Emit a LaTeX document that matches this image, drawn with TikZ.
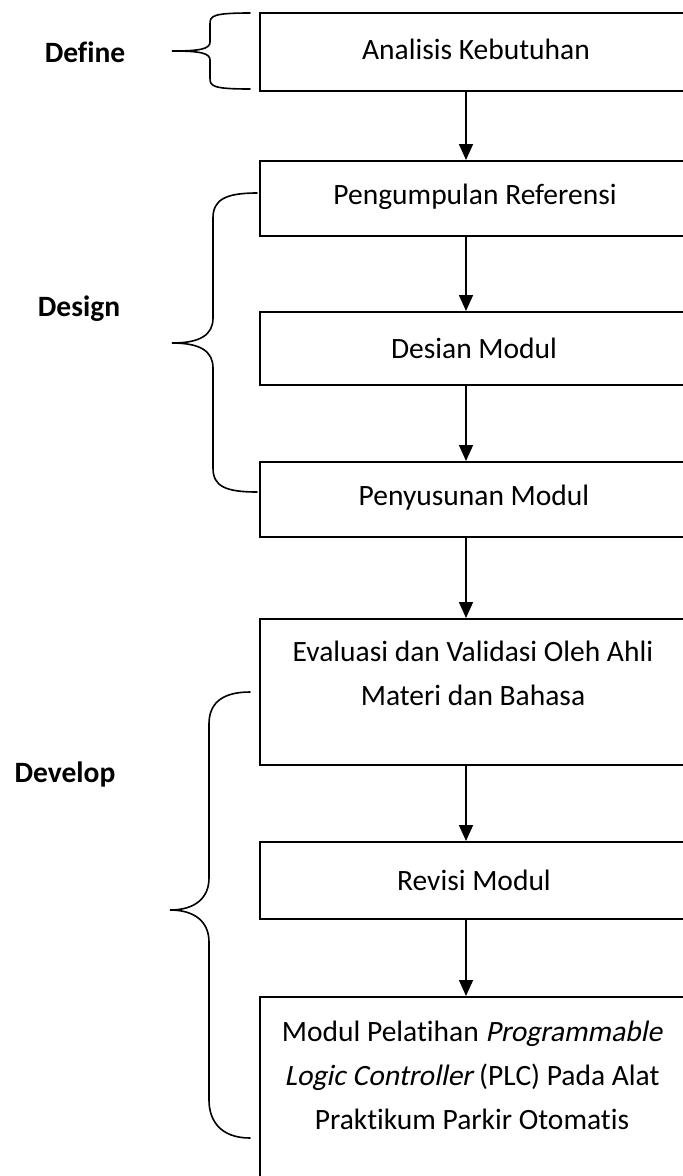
\documentclass[tikz,border=0pt]{standalone}
\usepackage{fontspec}
\setmainfont{Carlito}[Ligatures=NoCommon, ItalicFont=Carlito, ItalicFeatures={FakeSlant=0.2}]
\usetikzlibrary{arrows.meta}
\begin{document}
\begin{tikzpicture}[x=1pt,y=-1pt,
  box/.style={draw, line width=1.6pt, anchor=north west, minimum width=460pt, inner sep=0pt},
  txt/.style={font=\fontsize{29.5}{44}\selectfont, align=center, inner sep=0pt},
  lbl/.style={font=\fontsize{29.5}{44}\selectfont\bfseries, inner sep=0pt},
  arr/.style={line width=1.6pt, -{Triangle[length=16pt,width=14pt]}},
  brace/.style={line width=1.6pt, line cap=round}]
\useasboundingbox (0,0) rectangle (683,1176);
\clip (0,0) rectangle (683,1176);
% boxes
\node[box, minimum height=78pt]  (b1) at (259,12)  {};
\node[box, minimum height=75pt]  (b2) at (259,160) {};
\node[box, minimum height=73pt]  (b3) at (259,311) {};
\node[box, minimum height=75pt]  (b4) at (259,461) {};
\node[box, minimum height=146pt] (b5) at (259,618) {};
\node[box, minimum height=77pt]  (b6) at (259,841) {};
\node[box, minimum height=230pt] (b7) at (259,996) {};
% texts
\node[txt] (t1) at (476,49)  {Analisis Kebutuhan};
\node[txt] (t2) at (475,197) {Pengumpulan Referensi};
\node[txt] (t3) at (474,348) {Desian Modul};
\node[txt] (t4) at (474,498) {Penyusunan Modul};
\node[txt] (t5) at (473,673) {Evaluasi dan Validasi Oleh Ahli\\Materi dan Bahasa};
\node[txt] (t6) at (474,880) {Revisi Modul};
\node[txt] (t7) at (472,1075) {Modul Pelatihan \textit{Programmable}\\\textit{Logic Controller} (PLC) Pada Alat\\Praktikum Parkir Otomatis};
% labels
\node[lbl] (l1) at (85,52)  {Define};
\node[lbl] (l2) at (79,309) {Design};
\node[lbl] (l3) at (65,774) {Develop};
% arrows
\coordinate (ax) at (466,0);
\draw[arr] (b1.south -| ax) -- (b2.north -| ax);
\draw[arr] (b2.south -| ax) -- (b3.north -| ax);
\draw[arr] (b3.south -| ax) -- (b4.north -| ax);
\draw[arr] (b4.south -| ax) -- (b5.north -| ax);
\draw[arr] (b5.south -| ax) -- (b6.north -| ax);
\draw[arr] (b6.south -| ax) -- (b7.north -| ax);
% braces
\draw[brace] (250,13) .. controls (212,13) and (210,16) .. (210,24) -- (210,42)
  .. controls (210,49) and (200,51) .. (172,51)
  .. controls (200,51) and (210,53) .. (210,60) -- (210,78)
  .. controls (210,86) and (212,89) .. (250,89);
\draw[brace] (257,193) .. controls (225,193) and (213,200) .. (213,218) -- (213,318)
  .. controls (213,335) and (200,343) .. (172,343)
  .. controls (200,343) and (213,351) .. (213,368) -- (213,468)
  .. controls (213,486) and (225,492) .. (257,492);
\draw[brace] (250,692) .. controls (220,692) and (209,705) .. (209,724) -- (209,878)
  .. controls (209,898) and (195,910) .. (170,910)
  .. controls (195,910) and (209,922) .. (209,942) -- (209,1100)
  .. controls (209,1120) and (220,1138) .. (250,1138);
\end{tikzpicture}
\end{document}
